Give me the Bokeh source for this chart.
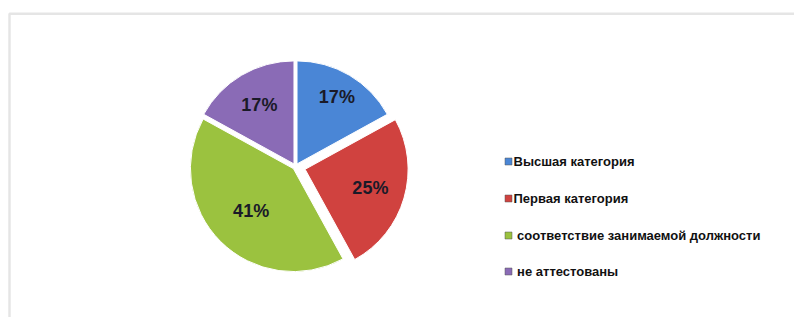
import math
from bokeh.plotting import figure
from bokeh.models import BoxAnnotation, ColumnDataSource
from bokeh.core.properties import value
from bokeh.embed import file_html
from bokeh.resources import INLINE

categories = ["Высшая категория", "Первая категория", "\u00a0соответствие занимаемой должности", "\u00a0не аттестованы"]
values = [17, 25, 41, 17]
pct_labels = ["17%", "25%", "41%", "17%"]
colors = ["#4a86d6", "#d0423f", "#9bc23f", "#8a6bb6"]
explode = [3, 10, 3, 3]
label_frac = [0.76, 0.66, 0.58, 0.66]

W, H = 794, 317
p = figure(width=W, height=H, output_backend="svg", toolbar_location=None,
           x_range=(0, W), y_range=(0, H), min_border=0)
p.axis.visible = False
p.grid.visible = False
p.outline_line_color = None
p.background_fill_color = "white"
p.border_fill_color = "white"

# frame (left and top edges visible)
p.add_layout(BoxAnnotation(left=9, right=W + 20, top=303.7, bottom=-20,
                           fill_alpha=0, line_color="#a8a8a8", line_width=2.5))

cx, cy, r = 295, 151, 103
total = sum(values)
xs, ys, sa, ea, lx, ly = [], [], [], [], [], []
cum = 0.0
for i, v in enumerate(values):
    a0 = math.radians(90 - cum / total * 360)
    cum += v
    a1 = math.radians(90 - cum / total * 360)
    mid = (a0 + a1) / 2
    ox = cx + explode[i] * math.cos(mid)
    oy = cy + explode[i] * math.sin(mid)
    xs.append(ox); ys.append(oy)
    sa.append(a1); ea.append(a0)
    lx.append(ox + label_frac[i] * r * math.cos(mid))
    ly.append(oy + label_frac[i] * r * math.sin(mid))

src = ColumnDataSource(dict(x=xs, y=ys, sa=sa, ea=ea, color=colors, lx=lx, ly=ly, lab=pct_labels))
p.wedge(x="x", y="y", radius=r, start_angle="sa", end_angle="ea", direction="anticlock",
        fill_color="color", line_color="white", line_width=1, source=src)
p.text(x="lx", y="ly", text="lab", source=src, text_align="center", text_baseline="middle",
       text_font=value("Liberation Sans"), text_font_style="bold", text_font_size="18px",
       text_color="#1a1a28")

# legend
leg_y = [317 - 161, 317 - 198, 317 - 235, 317 - 271]
leg_x = [508] * 4
lsrc = ColumnDataSource(dict(x=leg_x, y=leg_y, color=colors, t=categories,
                             tx=[x + 5 for x in leg_x]))
p.scatter(x="x", y="y", marker="square", size=7, fill_color="color", line_color="#555555",
          line_width=0.5, source=lsrc)
p.text(x="tx", y="y", text="t", source=lsrc, text_align="left", text_baseline="middle",
       text_font=value("Liberation Sans"), text_font_style="bold", text_font_size="13px",
       text_color="#111111")

open("out.html", "w").write(file_html(p, INLINE))
